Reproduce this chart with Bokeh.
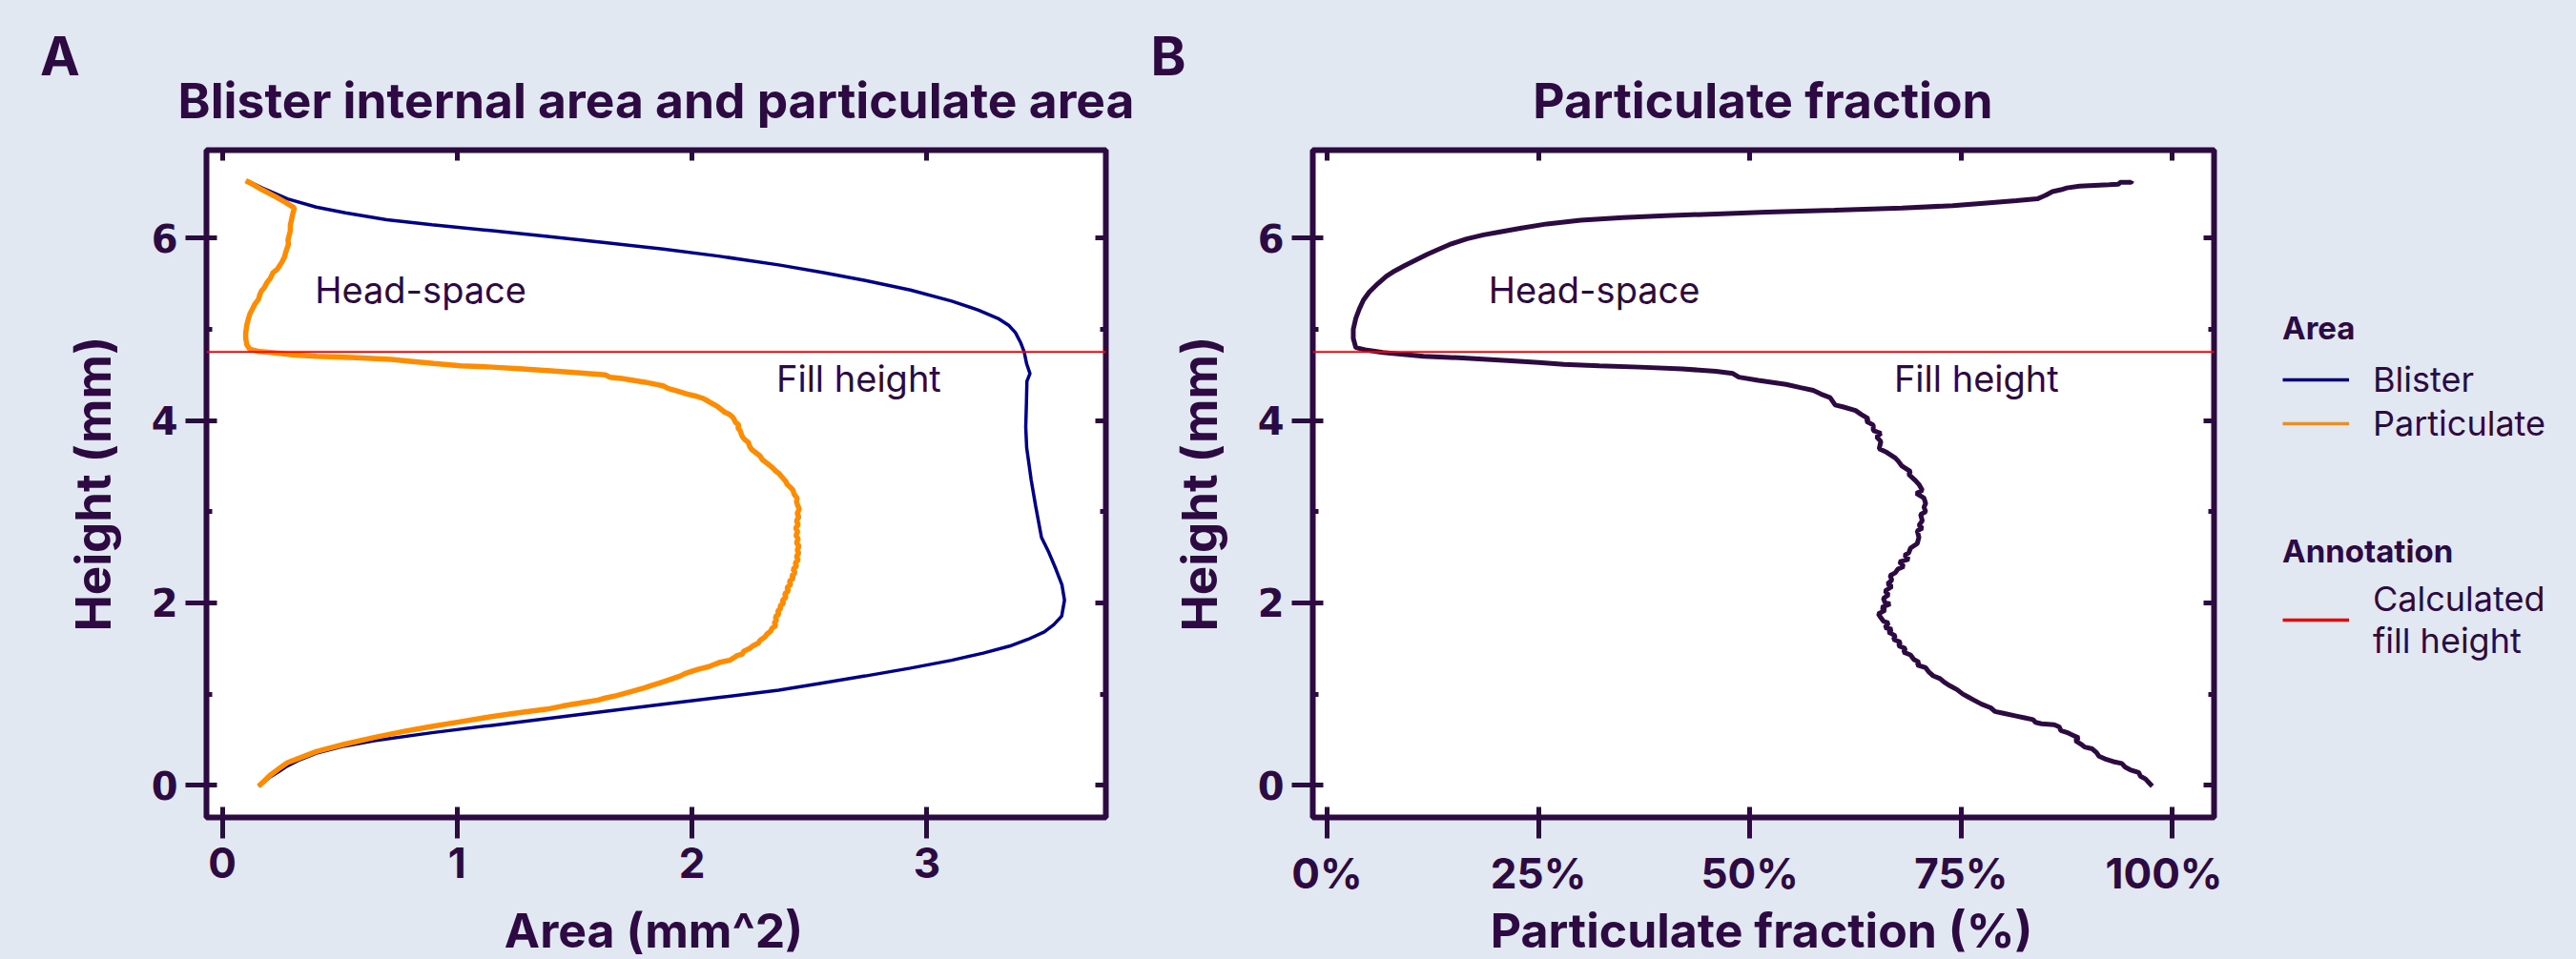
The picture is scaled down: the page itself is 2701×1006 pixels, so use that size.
from bokeh.plotting import figure
from bokeh.models import (Range1d, FixedTicker, LinearAxis, Label, Legend, LegendItem,
                          Span, NumeralTickFormatter)
from bokeh.layouts import row, column
from bokeh.embed import file_html
from bokeh.resources import INLINE

BG = "#E1E8F2"
INK = "#2E0A42"
BLUE = "#00008B"
ORANGE = "#FF8C00"
RED = "#FF0000"
FONT = "Inter"
TICK_FONT = "DejaVu Sans"
NAN = float("nan")

# ---------------- data ----------------
blister_height = [-0.01, 0.04, 0.093, 0.15, 0.214, 0.28, 0.352, 0.43, 0.49, 0.577,
                  0.655, 0.733, 0.81, 0.888, 0.965, 1.043, 1.12, 1.199, 1.285, 1.371,
                  1.45, 1.526, 1.60, 1.682, 1.76, 1.855, 2.03, 2.2, 2.373, 2.55,
                  2.718, 3.064, 3.35, 3.50, 3.70, 3.927, 4.2, 4.43, 4.515, 4.62,
                  4.756, 4.85, 4.964, 5.04, 5.119, 5.21, 5.309, 5.43, 5.534, 5.62,
                  5.706, 5.80, 5.879, 5.95, 6.017, 6.08, 6.145, 6.2, 6.277, 6.34,
                  6.43, 6.55, 6.63]
blister_area = [0.155, 0.18, 0.204, 0.24, 0.278, 0.33, 0.401, 0.52, 0.647, 0.893,
                1.14, 1.385, 1.63, 1.877, 2.12, 2.369, 2.55, 2.738, 2.93, 3.106,
                3.24, 3.352, 3.43, 3.50, 3.54, 3.574, 3.586, 3.575, 3.549, 3.52,
                3.488, 3.463, 3.444, 3.436, 3.425, 3.421, 3.424, 3.426, 3.439, 3.425,
                3.414, 3.40, 3.377, 3.35, 3.303, 3.22, 3.106, 2.93, 2.738, 2.56,
                2.369, 2.12, 1.877, 1.63, 1.385, 1.15, 0.893, 0.70, 0.524, 0.40,
                0.278, 0.17, 0.106]

particulate_area = [0.155, 0.18, 0.204, 0.24, 0.278, 0.33, 0.401, 0.52, 0.647, 0.77,
                    0.893, 1.02, 1.139, 1.26, 1.385, 1.45, 1.53, 1.60, 1.631, 1.68,
                    1.75, 1.80, 1.827, 1.86, 1.90, 1.95, 1.97, 2.0, 2.03, 2.073,
                    2.10, 2.12, 2.16, 2.172, 2.19, 2.215, 2.22, 2.245, 2.26, 2.283,
                    2.29, 2.31, 2.32, 2.335, 2.34, 2.357, 2.35, 2.36, 2.355, 2.37,
                    2.365, 2.378, 2.375, 2.39, 2.385, 2.40, 2.395, 2.41, 2.405, 2.42,
                    2.415, 2.432, 2.425, 2.44, 2.43, 2.445, 2.44, 2.452, 2.445, 2.455,
                    2.448, 2.456, 2.445, 2.452, 2.443, 2.45, 2.442, 2.452, 2.445, 2.455,
                    2.448, 2.457, 2.45, 2.445, 2.448, 2.435, 2.43, 2.418, 2.405, 2.40,
                    2.39, 2.38, 2.37, 2.355, 2.344, 2.33, 2.315, 2.30, 2.29, 2.27,
                    2.255, 2.245, 2.24, 2.225, 2.215, 2.209, 2.205, 2.195, 2.2, 2.185,
                    2.18, 2.172, 2.16, 2.14, 2.125, 2.11, 2.09, 2.07, 2.049, 2.02,
                    1.98, 1.94, 1.90, 1.877, 1.84, 1.80, 1.75, 1.70, 1.65, 1.631,
                    1.50, 1.40, 1.262, 1.15, 1.015, 0.90, 0.80, 0.72, 0.55, 0.401,
                    0.30, 0.229, 0.16, 0.118, 0.105, 0.10, 0.10, 0.105, 0.11, 0.118,
                    0.13, 0.14, 0.155, 0.16, 0.167, 0.18, 0.19, 0.205, 0.216, 0.235,
                    0.245, 0.255, 0.265, 0.27, 0.275, 0.282, 0.28, 0.285, 0.29, 0.29,
                    0.295, 0.30, 0.307, 0.27, 0.229, 0.17, 0.13, 0.10]
particulate_height = [-0.01, 0.05, 0.11, 0.18, 0.249, 0.30, 0.37, 0.45, 0.525, 0.59,
                      0.646, 0.70, 0.75, 0.795, 0.836, 0.87, 0.905, 0.935, 0.957, 0.985,
                      1.035, 1.07, 1.095, 1.12, 1.155, 1.199, 1.225, 1.25, 1.275, 1.302,
                      1.33, 1.35, 1.37, 1.389, 1.42, 1.44, 1.47, 1.50, 1.53, 1.56,
                      1.59, 1.625, 1.66, 1.69, 1.72, 1.751, 1.78, 1.81, 1.85, 1.875,
                      1.91, 1.94, 1.97, 1.993, 2.03, 2.06, 2.10, 2.13, 2.17, 2.20,
                      2.24, 2.269, 2.30, 2.33, 2.37, 2.40, 2.44, 2.47, 2.51, 2.546,
                      2.58, 2.62, 2.66, 2.70, 2.74, 2.78, 2.82, 2.86, 2.90, 2.94,
                      2.98, 3.03, 3.07, 3.11, 3.15, 3.19, 3.236, 3.27, 3.30, 3.33,
                      3.36, 3.39, 3.42, 3.45, 3.479, 3.51, 3.54, 3.57, 3.61, 3.651,
                      3.68, 3.72, 3.76, 3.79, 3.82, 3.858, 3.89, 3.92, 3.95, 3.98,
                      4.01, 4.04, 4.066, 4.09, 4.12, 4.15, 4.18, 4.21, 4.24, 4.265,
                      4.29, 4.32, 4.35, 4.38, 4.40, 4.42, 4.44, 4.46, 4.475, 4.50,
                      4.525, 4.545, 4.567, 4.585, 4.60, 4.625, 4.65, 4.67, 4.69, 4.705,
                      4.72, 4.74, 4.755, 4.78, 4.83, 4.90, 4.96, 5.05, 5.10, 5.17,
                      5.23, 5.28, 5.33, 5.38, 5.42, 5.46, 5.51, 5.56, 5.62, 5.66,
                      5.70, 5.74, 5.79, 5.84, 5.88, 5.93, 5.98, 6.03, 6.08, 6.14,
                      6.20, 6.26, 6.33, 6.39, 6.45, 6.53, 6.59, 6.63]

fraction_height = [6.63, 6.61, 6.61, 6.59, 6.585, 6.57, 6.55, 6.53, 6.51, 6.47,
                   6.45, 6.43, 6.41, 6.385, 6.355, 6.33, 6.305, 6.285, 6.265, 6.245,
                   6.225, 6.195, 6.155, 6.11, 6.06, 6.035, 5.99, 5.93, 5.87, 5.82,
                   5.76, 5.70, 5.64, 5.58, 5.50, 5.41, 5.32, 5.22, 5.12, 5.00,
                   4.90, 4.80, 4.775, 4.745, 4.725, 4.705, 4.685, 4.655, 4.635, 4.615,
                   4.60, 4.585, 4.565, 4.54, 4.515, 4.475, 4.44, 4.395, 4.36, 4.33,
                   4.29, 4.25, 4.17, 4.15, 4.11, 4.065, 4.02, 3.99, 3.95, 3.89,
                   3.86, 3.82, 3.77, 3.69, 3.65, 3.59, 3.55, 3.50, 3.44, 3.41,
                   3.35, 3.30, 3.236, 3.20, 3.15, 3.09, 3.05, 3.00, 2.97, 2.90,
                   2.85, 2.82, 2.79, 2.72, 2.65, 2.60, 2.55, 2.52, 2.48, 2.45,
                   2.40, 2.37, 2.33, 2.30, 2.25, 2.21, 2.18, 2.13, 2.09, 2.05,
                   2.00, 1.99, 1.95, 1.92, 1.88, 1.85, 1.80, 1.78, 1.73, 1.71,
                   1.68, 1.64, 1.60, 1.57, 1.53, 1.50, 1.46, 1.43, 1.38, 1.35,
                   1.32, 1.29, 1.24, 1.20, 1.17, 1.13, 1.09, 1.05, 1.00, 0.97,
                   0.93, 0.89, 0.85, 0.81, 0.79, 0.76, 0.74, 0.72, 0.69, 0.675,
                   0.665, 0.64, 0.60, 0.58, 0.55, 0.52, 0.49, 0.45, 0.42, 0.40,
                   0.36, 0.32, 0.29, 0.26, 0.24, 0.20, 0.17, 0.14, 0.10, 0.07,
                   0.03, -0.01]
fraction_value = [0.952, 0.951, 0.938, 0.936, 0.925, 0.89, 0.875, 0.868, 0.858, 0.85,
                  0.845, 0.84, 0.815, 0.78, 0.74, 0.68, 0.60, 0.52, 0.46, 0.40,
                  0.35, 0.30, 0.26, 0.23, 0.20, 0.185, 0.165, 0.145, 0.13, 0.118,
                  0.105, 0.092, 0.08, 0.07, 0.06, 0.05, 0.043, 0.038, 0.034, 0.031,
                  0.031, 0.034, 0.045, 0.066, 0.09, 0.114, 0.16, 0.218, 0.25, 0.28,
                  0.322, 0.37, 0.42, 0.46, 0.48, 0.487, 0.51, 0.543, 0.56, 0.575,
                  0.584, 0.595, 0.601, 0.61, 0.625, 0.632, 0.64, 0.638, 0.646, 0.646,
                  0.655, 0.65, 0.655, 0.653, 0.662, 0.672, 0.676, 0.68, 0.69, 0.688,
                  0.695, 0.70, 0.704, 0.697, 0.706, 0.708, 0.706, 0.708, 0.702, 0.704,
                  0.70, 0.704, 0.698, 0.70, 0.698, 0.69, 0.688, 0.683, 0.688, 0.677,
                  0.682, 0.675, 0.672, 0.666, 0.668, 0.663, 0.668, 0.660, 0.664, 0.658,
                  0.66, 0.666, 0.656, 0.660, 0.652, 0.654, 0.658, 0.664, 0.66, 0.668,
                  0.664, 0.672, 0.670, 0.678, 0.676, 0.684, 0.682, 0.69, 0.694, 0.70,
                  0.698, 0.708, 0.712, 0.717, 0.725, 0.73, 0.737, 0.745, 0.752, 0.758,
                  0.766, 0.774, 0.785, 0.79, 0.80, 0.815, 0.825, 0.835, 0.838, 0.845,
                  0.86, 0.866, 0.868, 0.875, 0.882, 0.889, 0.885, 0.892, 0.896, 0.905,
                  0.91, 0.913, 0.92, 0.93, 0.94, 0.944, 0.95, 0.96, 0.962, 0.968,
                  0.972, 0.976]

fill_height = 4.75
area_ticks = [0, 1, 2, 3]
fraction_ticks = [0, 0.25, 0.5, 0.75, 1.0]
height_ticks = [0, 2, 4, 6]
height_minor = [1, 3, 5]

# annotation positions (data units): x, y (text centre)
head_space_A = (0.845, 5.43)
fill_label_A = (2.71, 4.456)
head_space_B = (0.316, 5.43)
fill_label_B = (0.768, 4.456)

# ---------------- layout sizes (pixels) ----------------
HEADER_H = 140
MID_H = 805
FOOTER_H = 61
TOTAL_W = 2700
FRAME_TOP = 17
FRAME_H = 706


def blank_fig(width, height):
    p = figure(width=width, height=height, x_range=Range1d(0, width), y_range=Range1d(0, height),
               x_axis_type=None, y_axis_type=None, output_backend="svg", toolbar_location=None,
               min_border_left=0, min_border_right=0, min_border_top=0, min_border_bottom=0,
               background_fill_color=BG, border_fill_color=BG, outline_line_color=None)
    p.grid.visible = False
    return p


def make_fig(width, left, right, x_range, xticks):
    p = figure(width=width, height=MID_H, x_range=x_range, y_range=Range1d(-0.352, 6.964),
               output_backend="svg", toolbar_location=None,
               min_border_left=left, min_border_right=right,
               min_border_top=FRAME_TOP, min_border_bottom=MID_H - FRAME_TOP - FRAME_H,
               background_fill_color="white", border_fill_color=BG,
               outline_line_color=INK, outline_line_width=6)
    p.xgrid.visible = False
    p.ygrid.visible = False
    p.add_layout(LinearAxis(), "above")
    p.add_layout(LinearAxis(), "right")
    for ax in p.xaxis:
        ax.ticker = FixedTicker(ticks=xticks, minor_ticks=[])
    for ax in p.yaxis:
        ax.ticker = FixedTicker(ticks=height_ticks, minor_ticks=height_minor)
    for ax in p.axis:
        ax.axis_line_color = None
        ax.major_tick_line_color = INK
        ax.minor_tick_line_color = INK
        ax.major_tick_line_width = 5
        ax.minor_tick_line_width = 5
        ax.major_tick_in = 11
        ax.minor_tick_in = 6
        ax.minor_tick_out = 0
        ax.major_label_text_color = INK
    for ax in p.above + p.right:
        ax.major_tick_out = 0
        ax.major_label_text_color = None
        ax.major_label_text_font_size = "4px"
        ax.major_label_standoff = 0
    b = p.below[0]
    b.major_tick_out = 22
    b.major_label_standoff = 9
    b.major_label_text_font = FONT
    b.major_label_text_font_style = "bold"
    b.major_label_text_font_size = "44px"
    l = p.left[0]
    l.major_tick_out = 22
    l.major_label_standoff = 8
    l.major_label_text_font = TICK_FONT
    l.major_label_text_font_style = "bold"
    l.major_label_text_font_size = "40px"
    l.axis_label = "Height (mm)"
    l.axis_label_text_font = FONT
    l.axis_label_text_font_style = "bold"
    l.axis_label_text_font_size = "51px"
    l.axis_label_text_color = INK
    l.axis_label_standoff = 28
    p.add_layout(Span(location=fill_height, dimension="width", line_color=RED, line_width=2))
    return p


def add_text(p, text, x, y, size, bold=False, align="center", units="data"):
    p.add_layout(Label(x=x, y=y, x_units=units, y_units=units, text=text,
                       text_font=FONT, text_font_size=size,
                       text_font_style="bold" if bold else "normal",
                       text_color=INK, text_align=align, text_baseline="middle"))


# ---------------- header (panel letters + titles) ----------------
header = blank_fig(TOTAL_W, HEADER_H)
add_text(header, "A", 41.5, 81.5, "56px", bold=True, align="left")
add_text(header, "B", 1206, 81.5, "56px", bold=True, align="left")
add_text(header, "Blister internal area and particulate area", 687.5, 36, "51.5px", bold=True)
add_text(header, "Particulate fraction", 1848, 36, "51.5px", bold=True)

# ---------------- panel A ----------------
pA = make_fig(1200, 216, 41, Range1d(-0.067, 3.762), area_ticks)
pA.line(blister_area, blister_height, line_color=BLUE, line_width=3.5)
pA.line(particulate_area, particulate_height, line_color=ORANGE, line_width=5.5)
add_text(pA, "Head-space", head_space_A[0], head_space_A[1], "38px")
add_text(pA, "Fill height", fill_label_A[0], fill_label_A[1], "38px")

# ---------------- panel B ----------------
pB = make_fig(1130, 176, 9, Range1d(-0.0169, 1.0491), fraction_ticks)
pB.below[0].formatter = NumeralTickFormatter(format="0%")
pB.line(fraction_value, fraction_height, line_color=INK, line_width=5)
add_text(pB, "Head-space", head_space_B[0], head_space_B[1], "38px")
add_text(pB, "Fill height", fill_label_B[0], fill_label_B[1], "38px")

# ---------------- legend column ----------------
LEG_W = TOTAL_W - 1200 - 1130
leg_fig = blank_fig(LEG_W, MID_H)
# legend keys only (NaN points: nothing is drawn in the plot area)
key_blister = leg_fig.line(x=[NAN, NAN], y=[NAN, NAN], line_color=BLUE, line_width=3.5)
key_part = leg_fig.line(x=[NAN, NAN], y=[NAN, NAN], line_color=ORANGE, line_width=3.5)
key_fill = leg_fig.line(x=[NAN, NAN], y=[NAN, NAN], line_color=RED, line_width=3.5)


def style_legend(leg, standoff):
    leg.background_fill_alpha = 0
    leg.border_line_color = None
    leg.padding = 0
    leg.margin = 0
    leg.spacing = 2
    leg.glyph_width = 70
    leg.glyph_height = 36
    leg.label_standoff = 25
    leg.label_text_font = FONT
    leg.label_text_font_size = "36px"
    leg.label_text_color = INK
    leg.title_text_font = FONT
    leg.title_text_font_style = "bold"
    leg.title_text_font_size = "33px"
    leg.title_text_color = INK
    leg.title_standoff = standoff


leg_area = Legend(items=[LegendItem(label="Blister", renderers=[key_blister]),
                         LegendItem(label="Particulate", renderers=[key_part])],
                  title="Area", location=(63, 391))
style_legend(leg_area, 12)
leg_ann = Legend(items=[LegendItem(label="Calculated\nfill height", renderers=[key_fill])],
                 title="Annotation", location=(63, 163))
style_legend(leg_ann, 8)
leg_fig.add_layout(leg_area)
leg_fig.add_layout(leg_ann)

# ---------------- footer (x-axis titles) ----------------
footer = blank_fig(TOTAL_W, FOOTER_H)
add_text(footer, "Area (mm^2)", 685, 30.5, "50px", bold=True)
add_text(footer, "Particulate fraction (%)", 1846.5, 30.5, "50px", bold=True)

layout = column(header, row(pA, pB, leg_fig), footer)
html = file_html(layout, INLINE)
html = html.replace("<head>", "<head><style>html, body { background: %s; }</style>" % BG, 1)
open("out.html", "w").write(html)
